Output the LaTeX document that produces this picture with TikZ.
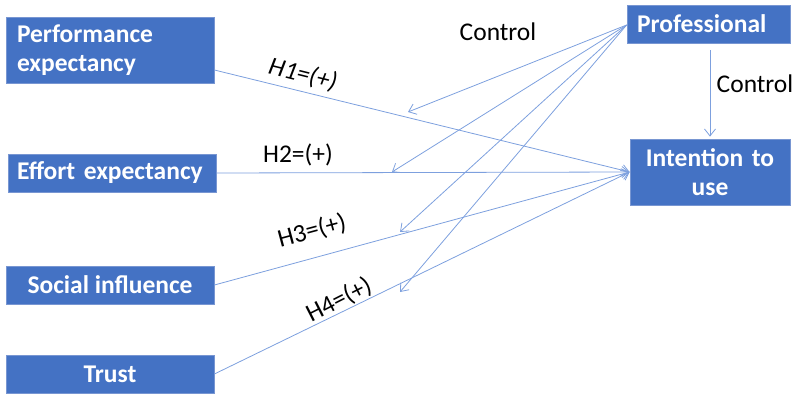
\documentclass[tikz,border=0pt]{standalone}
\usepackage{fontspec}
\setmainfont{Carlito}
\usetikzlibrary{arrows.meta}
\definecolor{boxfill}{RGB}{68,114,196}
\definecolor{boxline}{RGB}{120,150,210}
\definecolor{conn}{RGB}{125,160,222}
\tikzset{
  var/.style={draw=boxline, line width=0.8pt, fill=boxfill, text=white, font=\fontsize{25.5}{29}\selectfont\bfseries, inner sep=0pt, minimum width=208pt},
  lbl/.style={font=\fontsize{25.5}{29}\selectfont, text=black, inner sep=0pt},
  link/.style={draw=conn, line width=0.8pt, -{Straight Barb[length=7pt,width=11pt]}}
}
\begin{document}
\begin{tikzpicture}[x=1pt,y=-1pt]
\useasboundingbox (0,0) rectangle (796,394);
\node[var, minimum height=66pt, text width=186pt, align=left] (perf) at (110,50) {Performance\\expectancy};
\node[var, minimum height=38pt, text width=190pt, align=left] (effort) at (112,173) {Effort expectancy};
\node[var, minimum height=38pt, align=center] (social) at (110,285) {Social influence};
\node[var, minimum height=38pt, align=center] (trust) at (110,374) {Trust};
\node[var, minimum width=163pt, minimum height=38pt, text width=143pt, align=left] (prof) at (708.5,24) {Professional};
\node[var, minimum width=160pt, minimum height=66pt, text width=150pt, align=center] (intent) at (710,172) {Intention to\\use};

\coordinate (c1) at (408,112);
\coordinate (c2) at (392,172);
\coordinate (c3) at (400,232);
\coordinate (c4) at (400,292);

\draw[link] ([yshift=-20pt]perf.east) -- (intent.west);
\draw[link] (effort.east) -- (intent.west);
\draw[link] (social.east) -- (intent.west);
\draw[link] (trust.east) -- (intent.west);

\draw[link] ([yshift=-1pt]prof.west) -- (c1);
\draw[link] ([yshift=-1pt]prof.west) -- (c2);
\draw[link] ([yshift=-1pt]prof.west) -- (c3);
\draw[link] ([yshift=-1pt]prof.west) -- (c4);

\draw[link, shorten <=7pt, shorten >=2pt] (prof.south -| intent.north) -- (intent.north);

\node[lbl] (ctrl1) at (498,32) {Control};
\node[lbl] (ctrl2) at (755,84) {Control};
\node[lbl, rotate=-14] (h1) at (303,75) {\itshape H1=(+)};
\node[lbl] (h2) at (298,155) {H2=(+)};
\node[lbl, rotate=15] (h3) at (312,231) {H3=(+)};
\node[lbl, rotate=27] (h4) at (339,300) {H4=(+)};
\end{tikzpicture}
\end{document}
